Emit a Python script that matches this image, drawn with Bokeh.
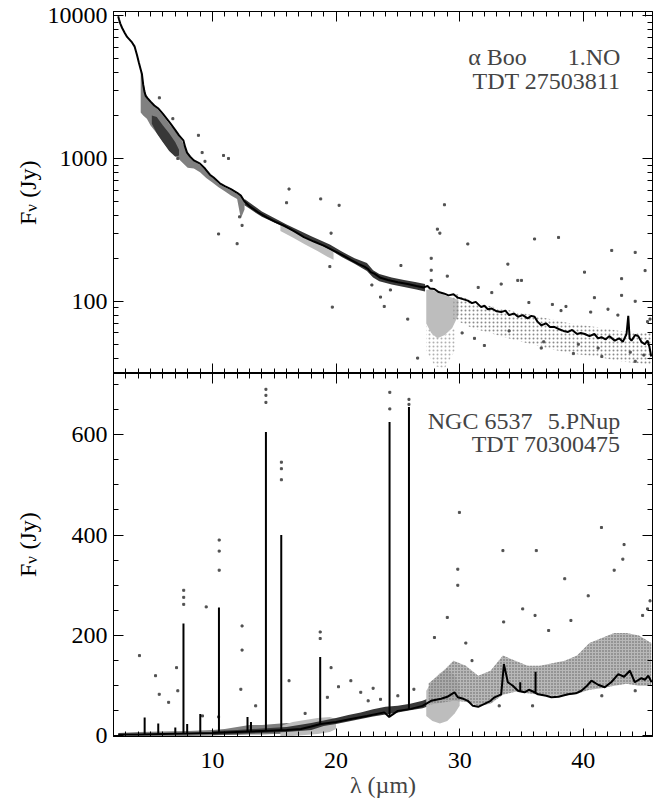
import numpy as np
from bokeh.plotting import figure
from bokeh.layouts import column, row
from bokeh.models import LinearAxis, LogAxis, FixedTicker, Label, BasicTickFormatter
from bokeh.embed import file_html
from bokeh.resources import INLINE

FONT = "Liberation Serif"

# ---------------- tick definitions ----------------
x_major = [10, 20, 30, 40]
x_minor = list(range(2, 46))
top_major = [100, 1000, 10000]
top_minor = [40, 50, 60, 70, 80, 90, 200, 300, 400, 500, 600, 700, 800, 900,
             2000, 3000, 4000, 5000, 6000, 7000, 8000, 9000]
bot_major = [0, 200, 400, 600]
bot_minor = list(range(0, 751, 50))

# ---------------- alpha Boo (top panel) ----------------
boo_wave = [2.38, 2.45, 2.55, 2.7, 2.9, 3.1, 3.3, 3.5, 3.7, 3.9, 4.05, 4.2, 4.3, 4.4, 4.5, 4.6,
            4.75, 5.0, 5.3, 5.6, 6.0, 6.3, 6.6, 7.0, 7.3, 7.65, 7.8, 7.95, 8.2, 8.5, 9.0, 9.4,
            9.8, 10.1, 10.6, 11.0, 11.5, 12.0, 12.3, 12.6, 13.1, 13.7, 14.4, 15.1, 15.8, 16.6,
            17.4, 18.2, 19.0, 19.8, 20.6, 21.2, 21.8, 22.3, 22.6, 22.8, 23.1, 23.6, 24.2, 25.0,
            25.8, 26.5, 27.1, 27.4, 27.6, 27.95, 28.3, 28.77, 29.1, 29.5, 29.85, 30.2, 30.66,
            31.0, 31.3, 31.74, 32.0, 32.28, 32.6, 33.0, 33.36, 33.7, 34.0, 34.4, 34.72, 35.1,
            35.5, 35.8, 36.06, 36.3, 36.6, 37.0, 37.3, 37.69, 38.0, 38.4, 38.77, 39.1, 39.5,
            39.8, 40.12, 40.5, 40.9, 41.2, 41.47, 41.8, 42.1, 42.55, 42.9, 43.2, 43.5, 43.64,
            43.75, 43.9, 44.2, 44.45, 44.7, 44.98, 45.2, 45.35, 45.5]
boo_flux = [9900, 9400, 8800, 8200, 7600, 7100, 6800, 6500, 6100, 5300, 4700, 4200, 3900, 3300,
            2950, 2750, 2650, 2500, 2350, 2250, 2050, 1900, 1760, 1580, 1450, 1340, 1200, 1100,
            1030, 970, 920, 850, 770, 736, 670, 640, 610, 575, 550, 500, 456, 420, 387, 360, 339,
            310, 281, 262, 245, 226, 209, 195, 183, 175, 168, 160, 156, 146, 141, 136, 132, 128,
            125, 128, 123, 122, 116, 113, 110, 112, 106, 104, 101, 97, 99, 91, 93, 88, 89, 85, 84,
            86, 80, 82, 78, 80, 76, 79, 78, 72, 68, 70, 66, 66, 64, 62, 61, 63, 59, 60, 59, 57, 59,
            55, 56, 54, 57, 53, 55, 52, 59, 79, 55, 53, 58, 57, 52, 50, 53, 48, 41]

# scan-data envelopes (top panel)
boo_med_wave = [4.2, 4.4, 4.7, 5.0, 5.5, 6.0, 6.5, 7.0, 7.5, 8.0, 8.5, 9.0, 9.5, 10.0, 10.5,
                11.0, 11.5, 12.0, 12.3, 12.6]
boo_med_lo = [2100, 2000, 1900, 1700, 1500, 1300, 1150, 1050, 950, 860, 850, 800, 730, 680,
              630, 590, 550, 520, 380, 440]
boo_med_hi = [4200, 3400, 2700, 2480, 2250, 2000, 1750, 1550, 1350, 1080, 960, 900, 820, 740,
              665, 630, 600, 565, 560, 500]
boo_dk1_wave = [5.1, 5.5, 6.0, 6.5, 7.0, 7.3]
boo_dk1_lo = [1750, 1500, 1300, 1130, 1030, 1050]
boo_dk1_hi = [2000, 1950, 1700, 1500, 1300, 1150]
boo_lt1_wave = [15.5, 16.5, 17.5, 18.5, 19.3, 19.8]
boo_lt1_lo = [310, 280, 250, 225, 205, 195]
boo_lt1_hi = [345, 318, 285, 258, 238, 228]
boo_dk2_wave = [12.6, 14.0, 16.0, 18.0, 19.5, 20.5, 21.5, 22.5, 23.0, 23.5, 24.5, 25.5, 26.5, 27.2]
boo_dk2_lo = [470, 390, 325, 268, 230, 203, 183, 163, 147, 138, 131, 126, 121, 117]
boo_dk2_hi = [520, 425, 345, 285, 250, 222, 200, 185, 165, 155, 147, 141, 136, 132]
boo_lt2_wave = [27.3, 27.7, 28.2, 28.8, 29.4, 29.9]
boo_lt2_lo = [70, 60, 55, 58, 65, 80]
boo_lt2_hi = [120, 122, 115, 110, 106, 102]
boo_lt3_wave = [27.3, 28.0, 28.8, 29.6]
boo_lt3_lo = [45, 35, 34, 45]
boo_lt3_hi = [70, 60, 58, 65]
boo_sp_wave = [29.5, 31.0, 33.0, 35.0, 37.0, 39.0, 41.0, 43.0, 45.5]
boo_sp_lo = [75, 65, 58, 52, 47, 43, 41, 38, 36]
boo_sp_hi = [115, 100, 90, 83, 76, 70, 66, 62, 60]

boo_out_x = [5.71, 8.87, 9.17, 9.4, 10.9, 11.3, 10.5, 12.0, 16.2, 16.0, 18.76, 20.25, 19.7,
             19.6, 19.5, 28.77, 28.2, 28.4, 27.7, 27.7, 27.7, 25.25, 23.6, 23.9, 25.8, 26.6,
             36.06, 38.0, 44.2, 45.0, 42.3, 33.36, 34.7, 40.1, 43.1, 43.1, 44.2, 40.9, 38.2,
             30.66, 33.9, 35.0, 41.5, 44.2, 36.6, 32.0, 39.2, 29.0, 31.5, 37.5, 42.0, 45.2,
             12.4, 12.2, 7.2, 6.8, 24.4, 22.9, 30.2, 31.2, 34.0, 36.8, 39.6, 41.2, 43.8, 44.9,
             32.6, 35.6, 38.6, 40.6, 42.8, 45.4]
boo_out_y = [2660, 1453, 1100, 955, 1050, 1000, 296, 253, 611, 490, 521, 470, 91, 300, 175,
             474, 320, 300, 200, 165, 140, 178, 107, 92, 75, 40, 273, 280, 220, 164, 227, 132,
             140, 160, 144, 110, 100, 106, 86, 252, 182, 140, 41, 38, 47, 49, 43, 150, 125, 95,
             88, 72, 340, 390, 1000, 1900, 120, 130, 60, 55, 62, 52, 50, 47, 44, 42, 115, 98,
             92, 84, 80, 75]

# ---------------- NGC 6537 (bottom panel) ----------------
ngc_wave = [2.38, 4.0, 6.0, 8.0, 10.0, 12.0, 14.0, 16.0, 17.16, 18.0, 18.76, 20.0, 21.2, 22.5,
            23.9, 24.3, 25.0, 26.06, 27.0, 27.69, 28.5, 29.0, 29.58, 29.85, 30.3, 30.66, 31.07,
            31.5, 32.01, 32.5, 32.82, 33.36, 33.58, 33.9, 34.3, 34.72, 35.25, 35.6, 36.06,
            36.34, 37.0, 37.42, 38.0, 38.77, 39.4, 39.85, 40.3, 40.66, 41.2, 41.74, 42.3,
            42.83, 43.3, 43.77, 44.17, 44.7, 45.0, 45.26, 45.53]
ngc_flux = [3, 3, 4, 5, 6, 8, 10, 12, 14, 19, 24, 28, 34, 40, 47, 38, 50, 54, 60, 70, 74, 78,
            87, 77, 74, 70, 60, 58, 64, 70, 77, 83, 143, 107, 100, 90, 87, 92, 87, 83, 80, 77,
            78, 83, 85, 90, 100, 110, 102, 97, 108, 123, 118, 130, 107, 115, 112, 120, 107]

line_wave = [4.52, 5.62, 7.0, 7.66, 7.96, 9.02, 10.53, 12.84, 13.12, 14.33, 15.57, 18.72,
             24.33, 25.9, 34.9, 36.14]
line_peak = [37, 25, 17, 224, 24, 44, 256, 38, 28, 605, 400, 157, 625, 655, 107, 128]

ngc_med1_wave = [2.4, 4.0, 6.0, 8.0, 10.0, 11.0, 12.0, 13.0, 14.0, 15.0, 16.0, 17.0]
ngc_med1_lo = [0, 0, 0, 0, 1, 2, 2, 3, 3, 4, 4, 6]
ngc_med1_hi = [6, 8, 9, 10, 12, 14, 18, 22, 22, 24, 26, 24]
ngc_lt1_wave = [15.5, 16.5, 17.5, 18.5, 19.5, 20.0]
ngc_lt1_lo = [0, 0, 2, 4, 8, 14]
ngc_lt1_hi = [20, 28, 32, 36, 38, 34]
ngc_dk_wave = [10.0, 12.0, 14.0, 16.0, 18.0, 19.0, 20.0, 21.0, 22.0, 23.0, 24.0, 25.0, 26.0,
               27.0, 27.8]
ngc_dk_lo = [2, 4, 6, 8, 12, 20, 24, 29, 34, 39, 43, 47, 51, 55, 62]
ngc_dk_hi = [10, 12, 15, 18, 26, 31, 36, 42, 47, 53, 58, 60, 64, 70, 78]
ngc_lt2_wave = [27.3, 27.8, 28.4, 29.0, 29.6, 30.0]
ngc_lt2_lo = [40, 30, 25, 30, 45, 60]
ngc_lt2_hi = [90, 110, 125, 135, 120, 100]
ngc_med2_wave = [27.5, 28.5, 29.5, 30.5, 31.5, 32.5, 33.5, 34.5, 35.5, 36.5, 37.5, 38.5, 39.5,
                 40.5, 41.5, 42.5, 43.5, 44.5, 45.5]
ngc_med2_lo = [62, 66, 70, 68, 60, 64, 82, 88, 85, 82, 80, 80, 84, 92, 95, 100, 104, 100, 100]
ngc_med2_hi = [105, 125, 150, 140, 120, 130, 160, 150, 140, 140, 145, 150, 160, 185, 195,
               205, 205, 200, 185]

ngc_out_x = [14.33, 14.33, 14.33, 15.58, 15.58, 15.58, 10.55, 10.55, 10.55, 7.68, 7.68, 7.68,
             18.72, 18.72, 24.35, 24.35, 25.9, 25.9, 4.1, 5.4, 5.7, 6.46, 7.1, 7.2, 9.5, 12.4,
             12.4, 12.3, 16.2, 9.2, 10.5, 19.3, 21.2, 22.0, 22.6, 23.6, 25.0, 26.3, 19.6, 20.2,
             27.96, 29.0, 29.85, 29.98, 29.85, 33.5, 33.56, 36.2, 36.1, 41.47, 43.2, 43.3,
             42.5, 45.4, 45.2, 38.5, 40.4, 35.1, 35.9, 33.2, 41.5, 44.2, 13.5, 17.5, 23.0,
             31.0, 39.0, 44.8, 37.2, 30.5]
ngc_out_y = [690, 678, 664, 545, 532, 510, 390, 368, 330, 290, 276, 262, 207, 194, 684, 651,
             670, 660, 160, 120, 83, 67, 136, 90, 257, 219, 171, 93, 110, 40, 38, 77, 110, 87,
             70, 73, 80, 93, 136, 98, 196, 236, 332, 445, 300, 369, 227, 369, 240, 415, 352,
             381, 330, 269, 253, 313, 279, 253, 60, 60, 80, 90, 60, 45, 95, 150, 230, 240,
             210, 185]

# ---------------- helpers ----------------
def style_axis(ax, major, minor, show_labels, major_len=10, minor_len=5):
    ax.ticker = FixedTicker(ticks=major, minor_ticks=minor)
    ax.major_tick_in = major_len
    ax.major_tick_out = 0
    ax.minor_tick_in = minor_len
    ax.minor_tick_out = 0
    ax.axis_line_color = "black"
    ax.axis_line_width = 1
    ax.major_tick_line_color = "black"
    ax.minor_tick_line_color = "black"
    ax.major_label_text_font = FONT
    if show_labels:
        ax.major_label_text_font_size = "24px"
        ax.major_label_text_color = "black"
        ax.major_label_standoff = 6
    else:
        ax.major_label_text_font_size = "1px"
        ax.major_label_text_color = None
        ax.major_label_standoff = 0


LAB_W = 43


def base_fig(frame_h, y_range, y_type, border_top, border_bottom):
    p = figure(frame_width=539, frame_height=frame_h, x_range=(2.0, 45.6), y_range=y_range,
               y_axis_type=y_type, output_backend="svg", toolbar_location=None,
               min_border_left=113 - LAB_W, min_border_right=4, min_border_top=border_top,
               min_border_bottom=border_bottom, background_fill_color="white",
               border_fill_color="white")
    p.xgrid.visible = False
    p.ygrid.visible = False
    p.outline_line_color = "black"
    p.outline_line_width = 1
    return p


MED, DARK, LIGHT = "#808080", "#383838", "#bdbdbd"

# ---------------- top panel ----------------
top = base_fig(362, (31.2, 10700), "log", 11, 0)
style_axis(top.xaxis[0], x_major, x_minor, False)
style_axis(top.yaxis[0], top_major, top_minor, True)
top.yaxis[0].formatter = BasicTickFormatter(use_scientific=False)
ax = LinearAxis()
style_axis(ax, x_major, x_minor, False)
top.add_layout(ax, "above")
ax = LogAxis()
style_axis(ax, top_major, top_minor, False)
top.add_layout(ax, "right")

top.varea(x=boo_med_wave, y1=boo_med_lo, y2=boo_med_hi, fill_color=MED)
top.varea(x=boo_dk1_wave, y1=boo_dk1_lo, y2=boo_dk1_hi, fill_color=DARK)
top.varea(x=boo_lt1_wave, y1=boo_lt1_lo, y2=boo_lt1_hi, fill_color=LIGHT)
top.varea(x=boo_dk2_wave, y1=boo_dk2_lo, y2=boo_dk2_hi, fill_color=DARK)
top.varea(x=boo_lt3_wave, y1=boo_lt3_lo, y2=boo_lt3_hi, fill_color=None,
          hatch_pattern="dot", hatch_color="#b0b0b0", hatch_scale=4, hatch_weight=1.5)
top.varea(x=boo_lt2_wave, y1=boo_lt2_lo, y2=boo_lt2_hi, fill_color=LIGHT)
top.varea(x=boo_sp_wave, y1=boo_sp_lo, y2=boo_sp_hi, fill_color=None,
          hatch_pattern="dot", hatch_color="#8a8a8a", hatch_scale=4, hatch_weight=1.5)
top.scatter(boo_out_x, boo_out_y, marker="square", size=2, color="#505050")
top.line(boo_wave, boo_flux, line_color="black", line_width=2)

top.add_layout(Label(x=30.69, y=5120, text="α Boo", text_font=FONT, text_font_size="24px",
                     text_align="left", text_baseline="alphabetic"))
top.add_layout(Label(x=43.0, y=5120, text="1.NO", text_font=FONT, text_font_size="24px",
                     text_align="right", text_baseline="alphabetic"))
top.add_layout(Label(x=43.0, y=3480, text="TDT 27503811", text_font=FONT,
                     text_font_size="24px", text_align="right", text_baseline="alphabetic"))

# ---------------- bottom panel ----------------
bot = base_fig(363, (-1, 721.5), "linear", 0, 0)
style_axis(bot.xaxis[0], x_major, x_minor, True, 8, 5)
bot.xaxis[0].axis_label = "λ (µm)"
bot.xaxis[0].axis_label_text_font = FONT
bot.xaxis[0].axis_label_text_font_size = "24px"
bot.xaxis[0].axis_label_text_font_style = "normal"
bot.xaxis[0].axis_label_standoff = 1
bot.xaxis[0].major_label_standoff = 16
style_axis(bot.yaxis[0], bot_major, bot_minor, True)
ax = LinearAxis()
style_axis(ax, x_major, x_minor, False)
bot.add_layout(ax, "above")
ax = LinearAxis()
style_axis(ax, bot_major, bot_minor, False)
bot.add_layout(ax, "right")

bot.varea(x=ngc_med1_wave, y1=ngc_med1_lo, y2=ngc_med1_hi, fill_color=MED)
bot.varea(x=ngc_lt1_wave, y1=ngc_lt1_lo, y2=ngc_lt1_hi, fill_color=LIGHT)
bot.varea(x=ngc_dk_wave, y1=ngc_dk_lo, y2=ngc_dk_hi, fill_color=DARK)
bot.varea(x=ngc_lt2_wave, y1=ngc_lt2_lo, y2=ngc_lt2_hi, fill_color=LIGHT)
bot.varea(x=ngc_med2_wave, y1=ngc_med2_lo, y2=ngc_med2_hi, fill_color="#a6a6a6",
          fill_alpha=0.8, hatch_pattern="dot", hatch_color="#5e5e5e", hatch_scale=3,
          hatch_weight=1.2)
bot.scatter(ngc_out_x, ngc_out_y, marker="square", size=2, color="#505050")
line_base = np.interp(line_wave, ngc_wave, ngc_flux)
bot.segment(x0=line_wave, y0=line_base, x1=line_wave, y1=line_peak, line_color="black",
            line_width=2)
bot.line(ngc_wave, ngc_flux, line_color="black", line_width=2)

bot.add_layout(Label(x=27.42, y=626.5, text="NGC 6537", text_font=FONT, text_font_size="24px",
                     text_align="left", text_baseline="alphabetic"))
bot.add_layout(Label(x=43.0, y=626.5, text="5.PNup", text_font=FONT, text_font_size="24px",
                     text_align="right", text_baseline="alphabetic"))
bot.add_layout(Label(x=43.0, y=581.5, text="TDT 70300475", text_font=FONT,
                     text_font_size="24px", text_align="right", text_baseline="alphabetic"))

# ---------------- y-axis titles (F_nu (Jy)) in a narrow strip on the left ----------------
lab = figure(width=LAB_W, height=798, x_range=(0, LAB_W), y_range=(798, 0),
             x_axis_location=None, y_axis_location=None, toolbar_location=None,
             output_backend="svg", min_border=0, outline_line_color=None)
lab.xgrid.visible = False
lab.ygrid.visible = False
common = dict(angle=np.pi / 2, text_font=FONT, text_align="left",
              text_baseline="middle", text_color="black")
for yf, ynu, yjy in [(224.5, 211.2, 197.3), (576.5, 563.2, 549.0)]:
    lab.add_layout(Label(x=27, y=yf, text="F", text_font_size="24px", **common))
    lab.add_layout(Label(x=31, y=ynu, text="ν", text_font_size="17px", **common))
    lab.add_layout(Label(x=27, y=yjy, text="(Jy)", text_font_size="24px", **common))

layout = row(lab, column(top, bot, spacing=0), spacing=0)
open("out.html", "w").write(file_html(layout, INLINE))
